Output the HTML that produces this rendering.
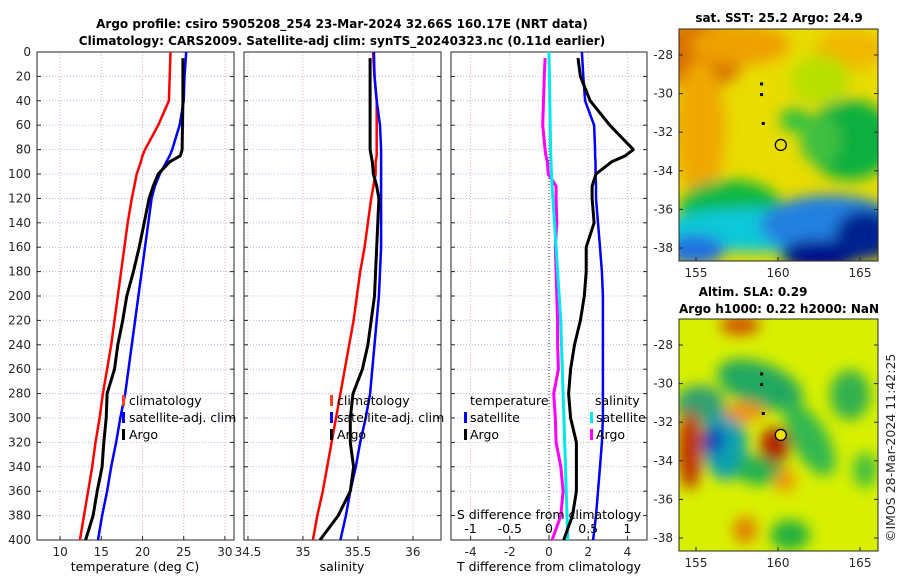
<!DOCTYPE html>
<html><head><meta charset="utf-8"><style>
body{margin:0;background:#fff;}
svg{display:block;font-family:"DejaVu Sans","Liberation Sans",sans-serif;}
.t{font-size:12px;font-weight:bold;fill:#000;}
.tk{font-size:12px;fill:#262626;}
.lg{font-size:12.5px;fill:#000;}
</style></head><body>
<svg id="c" width="900" height="580" viewBox="0 0 900 580">
<defs>
<filter id="bl" x="-30%" y="-30%" width="160%" height="160%"><feGaussianBlur stdDeviation="7"/></filter>
<clipPath id="m1c"><rect x="679" y="29" width="199" height="232"/></clipPath>
<clipPath id="m2c"><rect x="679" y="319" width="199" height="232"/></clipPath>
</defs>
<text class="t" x="342" y="28" text-anchor="middle">Argo profile: csiro 5905208_254 23-Mar-2024 32.66S 160.17E (NRT data)</text>
<text class="t" x="342" y="45" text-anchor="middle">Climatology: CARS2009. Satellite-adj clim: synTS_20240323.nc (0.11d earlier)</text>
<g id="g"></g>
<g clip-path="url(#m1c)">
<rect x="679" y="29" width="199" height="232" fill="#e8dc00"/>
<g filter="url(#bl)">
<ellipse cx="700" cy="55" rx="45" ry="35" fill="#d87000"/>
<ellipse cx="740" cy="45" rx="50" ry="20" fill="#eea000"/>
<ellipse cx="700" cy="130" rx="25" ry="70" fill="#f0a800"/>
<ellipse cx="850" cy="50" rx="35" ry="20" fill="#f0b800"/>
<ellipse cx="820" cy="80" rx="30" ry="25" fill="#b8e000"/>
<ellipse cx="850" cy="140" rx="45" ry="40" fill="#10b040"/>
<ellipse cx="820" cy="140" rx="20" ry="25" fill="#40c040"/>
<ellipse cx="730" cy="205" rx="50" ry="25" fill="#10b840"/>
<ellipse cx="795" cy="120" rx="15" ry="12" fill="#30c040"/>
<ellipse cx="760" cy="230" rx="110" ry="22" fill="#10c8d8"/>
<ellipse cx="830" cy="225" rx="70" ry="30" fill="#2080e0"/>
<ellipse cx="820" cy="255" rx="40" ry="15" fill="#00108a"/>
<ellipse cx="865" cy="235" rx="30" ry="25" fill="#002090"/>
<ellipse cx="695" cy="250" rx="30" ry="15" fill="#2070e0"/>
</g>
</g>
<rect x="679" y="29" width="199" height="232" fill="none" stroke="#262626"/>
<g clip-path="url(#m2c)">
<rect x="679" y="319" width="199" height="232" fill="#d8f000"/>
<g filter="url(#bl)">
<ellipse cx="760" cy="385" rx="45" ry="22" fill="#20a860" transform="rotate(20 760 385)"/>
<ellipse cx="810" cy="440" rx="18" ry="40" fill="#30b850" transform="rotate(-30 810 440)"/>
<ellipse cx="700" cy="405" rx="25" ry="20" fill="#30a070"/>
<ellipse cx="850" cy="395" rx="20" ry="25" fill="#30b050"/>
<ellipse cx="725" cy="445" rx="22" ry="35" fill="#10a0b0"/>
<ellipse cx="713" cy="440" rx="10" ry="14" fill="#1030c0"/>
<ellipse cx="760" cy="470" rx="25" ry="15" fill="#20b050"/>
<ellipse cx="690" cy="450" rx="12" ry="40" fill="#c03000"/>
<ellipse cx="745" cy="412" rx="20" ry="10" fill="#f09000"/>
<ellipse cx="775" cy="445" rx="15" ry="18" fill="#b02000"/>
<ellipse cx="785" cy="480" rx="10" ry="12" fill="#f09000"/>
<ellipse cx="740" cy="325" rx="20" ry="10" fill="#d05000"/>
<ellipse cx="790" cy="535" rx="20" ry="15" fill="#20b040"/>
<ellipse cx="745" cy="530" rx="12" ry="14" fill="#e08000"/>
<ellipse cx="865" cy="470" rx="12" ry="18" fill="#40c040"/>
</g>
</g>
<rect x="679" y="319" width="199" height="232" fill="none" stroke="#262626"/>
<text class="t" x="779" y="22" text-anchor="middle">sat. SST: 25.2 Argo: 24.9</text>
<text class="t" x="753" y="296" text-anchor="middle">Altim. SLA: 0.29</text>
<text class="t" x="779" y="313" text-anchor="middle">Argo h1000: 0.22 h2000: NaN</text>
<text class="tk" x="0" y="0" transform="translate(895,542) rotate(-90)" style="font-size:12.5px">©IMOS 28-Mar-2024 11:42:25</text>
</svg>
<script>
const depths=[0,20,40,60,80,85,90,100,110,120,140,160,180,200,220,240,260,280,300,320,340,360,380,400];
const tClim=[23.4,23.3,23.2,21.9,20.3,20.0,19.8,19.3,19.0,18.7,18.2,17.8,17.4,17.0,16.6,16.2,15.7,15.2,14.8,14.3,13.9,13.4,12.9,12.4];
const tSat=[25.3,25.1,25.0,24.5,23.6,23.3,22.9,22.1,21.5,21.1,20.7,20.3,19.9,19.5,19.1,18.7,18.3,17.9,17.3,16.8,16.2,15.7,15.1,14.6];
const tArgo=[24.9,24.9,24.9,24.85,24.8,24.6,23.3,21.9,21.3,20.8,20.2,19.6,18.9,18.1,17.6,17.0,16.6,15.7,15.6,15.3,15.1,14.5,14.0,13.1];
const sClim=[35.637,35.65,35.67,35.67,35.67,35.67,35.66,35.66,35.64,35.62,35.59,35.56,35.52,35.49,35.46,35.42,35.38,35.34,35.30,35.26,35.22,35.18,35.13,35.09];
const sSat=[35.645,35.65,35.67,35.70,35.71,35.71,35.71,35.71,35.71,35.71,35.71,35.71,35.70,35.69,35.67,35.65,35.63,35.61,35.57,35.52,35.48,35.43,35.39,35.34];
const sArgo=[35.61,35.61,35.61,35.61,35.61,35.62,35.63,35.64,35.67,35.69,35.68,35.67,35.66,35.65,35.62,35.59,35.54,35.455,35.43,35.43,35.46,35.43,35.32,35.155];
const dtSat=[1.68,1.75,1.84,2.3,2.35,2.35,2.37,2.38,2.4,2.4,2.5,2.6,2.7,2.75,2.75,2.75,2.75,2.75,2.75,2.7,2.6,2.5,2.4,2.25];
const dtArgo=[1.48,1.6,2.1,3.1,4.3,3.9,3.2,2.4,2.2,2.2,2.3,1.9,1.9,1.8,1.6,1.3,1.1,1.0,1.1,1.4,1.4,1.4,1.2,0.75];
const dsSat=[0.0,0.005,0.01,0.015,0.02,0.023,0.025,0.03,0.04,0.05,0.07,0.09,0.11,0.13,0.15,0.16,0.17,0.18,0.19,0.2,0.21,0.22,0.23,0.24];
const dsArgo=[-0.05,-0.06,-0.07,-0.08,-0.05,-0.04,-0.02,-0.01,0.09,0.09,0.1,0.08,0.09,0.1,0.11,0.11,0.12,0.06,0.08,0.09,0.15,0.18,0.15,0.04];
const depthTicks=[0,20,40,60,80,100,120,140,160,180,200,220,240,260,280,300,320,340,360,380,400];
const tTicks=[10,15,20,25,30];
const sTicks=[34.5,35,35.5,36];
const dtTicks=[-4,-2,0,2,4];
const dsTicks=[-1,-0.5,0,0.5,1];
const NS='http://www.w3.org/2000/svg';
const G=document.getElementById('g');
function el(t,a,p){const e=document.createElementNS(NS,t);for(const k in a)e.setAttribute(k,a[k]);(p||G).appendChild(e);return e;}
const Y0=52,Y1=540;
const yS=d=>Y0+(d/400)*(Y1-Y0);
function panel(x0,x1,d0,d1,name){return {x0,x1,x:v=>x0+(v-d0)/(d1-d0)*(x1-x0),name};}
const P1=panel(37,234,7.2,31.1,'temperature-panel');
const P2=panel(244,441,34.464,36.255,'salinity-panel');
const P3=panel(451,647,-5,5,'difference-panel');
const P3s=panel(451,647,-1.25,1.25,'difference-panel');
function frame(P,ticks,fmt,yLabels){
  const g=el('g',{});
  
  
  ticks.forEach(v=>{const x=P.x(v);
    const l=el('line',{x1:x,x2:x,y1:Y0,y2:Y1,stroke:'#e8b0b0','stroke-dasharray':'1,2','stroke-width':1},g);
    });
  depthTicks.forEach(d=>{const y=yS(d);
    const l=el('line',{x1:P.x0,x2:P.x1,y1:y,y2:y,stroke:'#b0b8e8','stroke-dasharray':'1,2','stroke-width':1},g);
    
    el('line',{x1:P.x0,x2:P.x0+4,y1:y,y2:y,stroke:'#262626'},g);
    el('line',{x1:P.x1,x2:P.x1-4,y1:y,y2:y,stroke:'#262626'},g);
    if(yLabels){const t=el('text',{x:P.x0-6,y:y+4,'text-anchor':'end',class:'tk'},g);t.textContent=d;
      }
  });
  ticks.forEach(v=>{const x=P.x(v);
    el('line',{x1:x,x2:x,y1:Y1,y2:Y1-4,stroke:'#262626'},g);
    const t=el('text',{x:x,y:Y1+16,'text-anchor':'middle',class:'tk'},g);t.textContent=fmt(v);
    });
  el('rect',{x:P.x0,y:Y0,width:P.x1-P.x0,height:Y1-Y0,fill:'none',stroke:'#262626'},g);
  return g;
}
function line(P,xs,col,name,w){
  const pts=depths.map((d,i)=>P.x(xs[i]).toFixed(1)+','+yS(d===0&&name.indexOf('argo')>=0?5:d).toFixed(1)).join(' ');
  const p=el('polyline',{points:pts,fill:'none',stroke:col,'stroke-width':w||2.5,'stroke-linejoin':'round'});
  
  
}
function txt(x,y,s,name,cls,anchor){const t=el('text',{x,y,class:cls||'lg','text-anchor':anchor||'start'});t.textContent=s;
  return t;}
function lmark(x,y,col){const r=el('rect',{x:x,y:y-10,width:3,height:11,fill:col});}
frame(P1,tTicks,v=>v,true);
frame(P2,sTicks,v=>v,false);
frame(P3,dtTicks,v=>v,false);
const z=el('line',{x1:P3.x(0),x2:P3.x(0),y1:Y0,y2:Y1,stroke:'#333','stroke-dasharray':'1,2'});

line(P1,tClim,'#ff0000','temp-climatology-line');
line(P1,tSat,'#0000ff','temp-satellite-line');
line(P1,tArgo,'#000000','temp-argo-line',3);
line(P2,sClim,'#ff0000','sal-climatology-line');
line(P2,sSat,'#0000ff','sal-satellite-line');
line(P2,sArgo,'#000000','sal-argo-line',3);
line(P3s,dsArgo,'#ff00ff','sdiff-argo-line',3);
line(P3s,dsSat,'#00e8e8','sdiff-satellite-line',3);
line(P3,dtSat,'#0000ff','tdiff-satellite-line');
line(P3,dtArgo,'#000000','tdiff-argo-line',3);
[[122,'#ff4020','climatology',405],[122,'#0000ff','satellite-adj. clim',422],[122,'#000','Argo',439]].forEach(a=>{lmark(a[0],a[3],a[1]);txt(a[0]+7,a[3],a[2],'legend-entry');});
[[330,'#ff4020','climatology',405],[330,'#0000ff','satellite-adj. clim',422],[330,'#000','Argo',439]].forEach(a=>{lmark(a[0],a[3],a[1]);txt(a[0]+7,a[3],a[2],'legend-entry');});
txt(470,405,'temperature','legend-title');
txt(595,405,'salinity','legend-title');
[[464,'#0000ff','satellite',422],[464,'#000','Argo',439],[590,'#00e8e8','satellite',422],[590,'#ff00ff','Argo',439]].forEach(a=>{lmark(a[0],a[3],a[1]);txt(a[0]+6,a[3],a[2],'legend-entry');});
txt(549,519,'S difference from climatology','s-axis-title','lg','middle');
dsTicks.forEach(v=>{txt(P3s.x(v),533,String(v),'s-tick-label','lg','middle');});
txt(135,571,'temperature (deg C)','x-axis-title','lg','middle');
txt(342,571,'salinity','x-axis-title','lg','middle');
txt(549,571,'T difference from climatology','x-axis-title','lg','middle');
const lonTicks=[155,160,165];
const latTicks=[-28,-30,-32,-34,-36,-38];
const lonX=v=>696+(v-155)*16.4;
function mapAxes(top,lat28){
  const latY=v=>lat28+(-28-v)*19.3;
  lonTicks.forEach(v=>{const x=lonX(v);el('line',{x1:x,x2:x,y1:top+232,y2:top+228,stroke:'#262626'});
    txt(x,top+232+16,String(v),'lon-tick-label','tk','middle');});
  latTicks.forEach(v=>{const y=latY(v);
    el('line',{x1:679,x2:683,y1:y,y2:y,stroke:'#262626'});el('line',{x1:878,x2:874,y1:y,y2:y,stroke:'#262626'});
    txt(673,y+4,String(v),'lat-tick-label','tk','end');});
  const floats=[[159,-29.5],[159,-30.05],[159.1,-31.55]];
  floats.forEach(f=>{const c=el('rect',{x:lonX(f[0])-1.5,y:latY(f[1])-1.5,width:3,height:3,fill:'#000'});
    });
  return latY;
}
const ly1=mapAxes(29,55);const ly2=mapAxes(319,345);
const c1=el('circle',{cx:lonX(160.17),cy:ly1(-32.66),r:5.5,fill:'none',stroke:'#000','stroke-width':1.3});

const c2=el('circle',{cx:lonX(160.17),cy:ly2(-32.66),r:5.5,fill:'#f0e000',stroke:'#000','stroke-width':1.3});

document.getElementById('c').appendChild(G);
</script>
</body></html>
